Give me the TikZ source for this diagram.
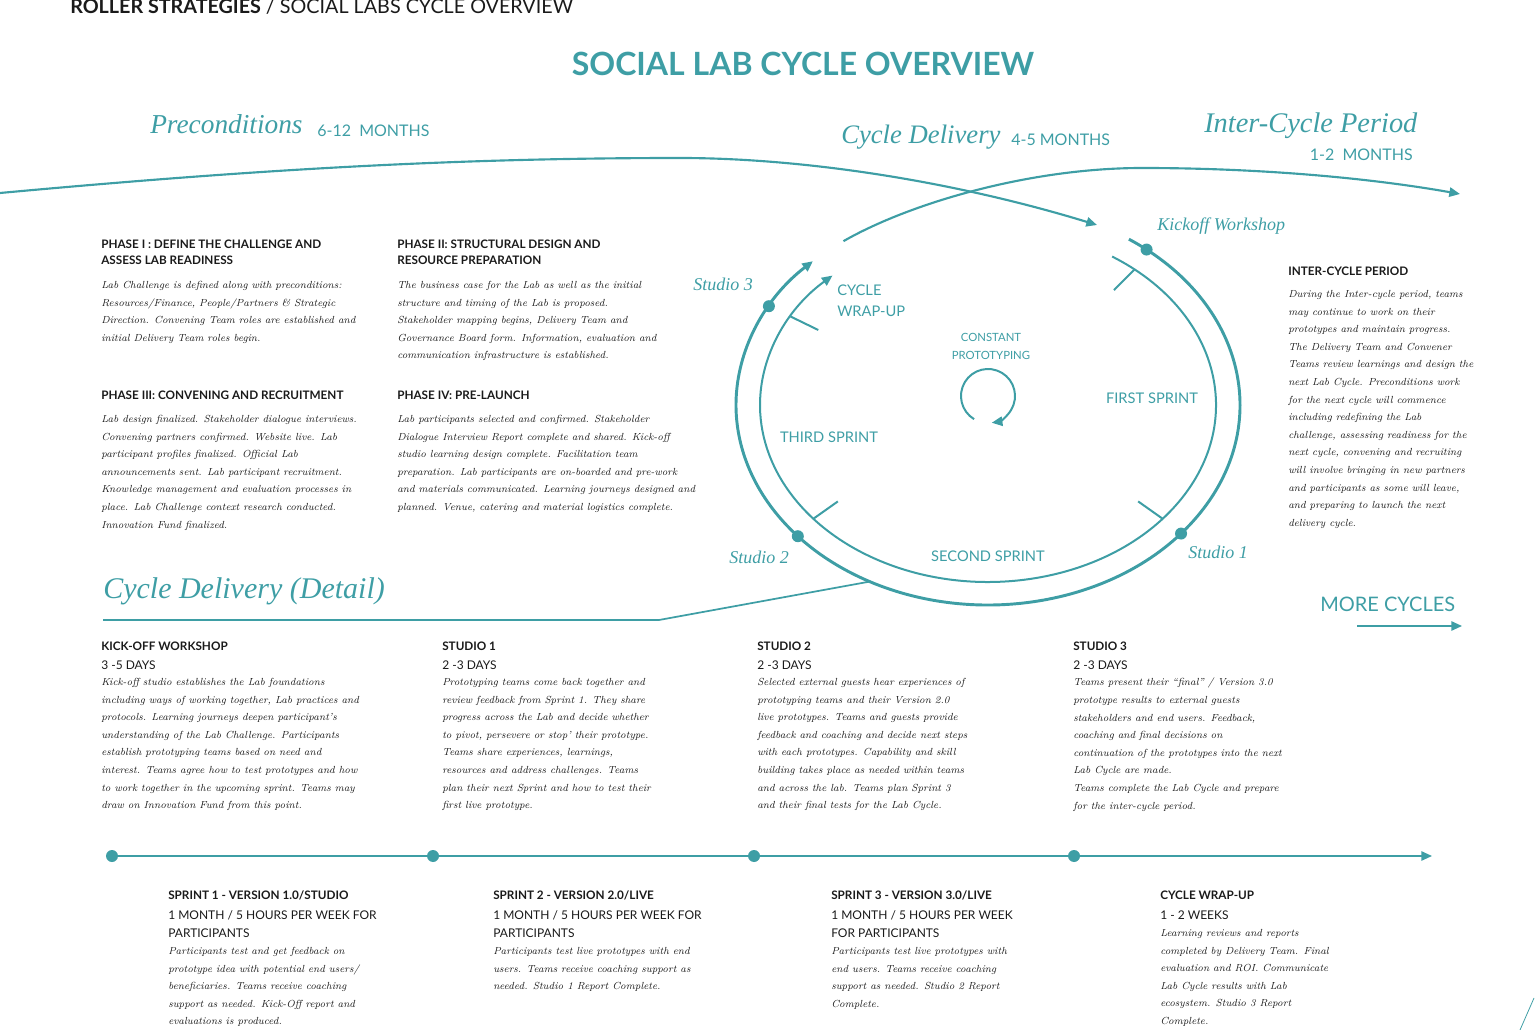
\documentclass[tikz,border=0pt]{standalone}
\usepackage{fontspec}
\setsansfont{Lato}
\newfontfamily\scrfont{Liberation Serif}
\usepackage{tikz}
\usetikzlibrary{arrows.meta,positioning,calc}
\definecolor{slTeal}{HTML}{3E9EA5}
\definecolor{slInk} {HTML}{1A1A1A}
\begin{document}
\begin{tikzpicture}[x=0.75pt,y=-0.75pt,
      hd/.style={font=\sffamily\bfseries\fontsize{8.8}{12}\selectfont,text=slInk,
                 anchor=north west,align=left,inner sep=0pt},
      dur/.style={font=\sffamily\fontsize{9}{13.5}\selectfont,text=slInk,
                  anchor=north west,align=left,inner sep=0pt},
      bd/.style={font=\itshape\fontsize{7.7}{13.2}\selectfont,text=slInk,
                 anchor=north west,align=left,inner sep=0pt},
      scr/.style={font=\scrfont\itshape\fontsize{20.5}{25}\selectfont,text=slTeal,
                  anchor=base west,inner sep=0pt},
      tag/.style={font=\scrfont\itshape\fontsize{13.5}{16}\selectfont,text=slTeal,
                  anchor=base west,inner sep=0pt},
      mon/.style={font=\sffamily\fontsize{12}{14}\selectfont,text=slTeal,
                  anchor=base west,inner sep=0pt},
      cyc/.style={font=\sffamily\fontsize{11}{15.75}\selectfont,text=slTeal,
                  align=left,inner sep=0pt},
      ring/.style={draw=slTeal,line width=2.2pt},
      inring/.style={draw=slTeal,line width=1.5pt},
      flow/.style={draw=slTeal,line width=1.3pt},
      dot/.style={circle,fill=slTeal,inner sep=0pt,minimum size=9pt},
      >={Triangle[length=8pt,width=7pt]}]
    \useasboundingbox (0,0) rectangle (1536,1030);
    \node[anchor=base west,inner sep=0pt,font=\sffamily\fontsize{14.8}{16}\selectfont,text=slInk]
      (hdr) at (70,14) {\textbf{ROLLER STRATEGIES} / SOCIAL LABS CYCLE OVERVIEW};
    \node[font=\sffamily\bfseries\fontsize{24}{28}\selectfont,text=slTeal] (ttl) at (803,64)
      {SOCIAL LAB CYCLE OVERVIEW};
    \node[scr] (pre) at (150,134) {Preconditions};
    \node[mon] (preM) at (317,137) {6-12\ \ MONTHS};
    \node[scr,font=\scrfont\itshape\fontsize{20}{25}\selectfont] (cd) at (841,144) {Cycle Delivery};
    \node[mon] (cdM) at (1011,146) {4-5 MONTHS};
    \node[scr,font=\scrfont\itshape\fontsize{21.3}{26}\selectfont] (ic) at (1204,133) {Inter-Cycle Period};
    \node[mon,anchor=base east] (icM) at (1413,161) {1-2\ \ MONTHS};
    \node[scr,font=\scrfont\itshape\fontsize{22.5}{28}\selectfont] (cdd) at (103,598) {Cycle Delivery (Detail)};
    \node[mon,font=\sffamily\fontsize{15}{18}\selectfont] (more) at (1320,611) {MORE CYCLES};
    % cycle
    \coordinate (ctr) at (988,405);
    \coordinate (cp) at (988,396);
    \coordinate (preS) at (0,193);
    \coordinate (preE) at (1097,225);
    \coordinate (icS) at ([shift={(235:252 and 200)}]ctr);
    \coordinate (icE) at (1460,194);
    \coordinate (cddA) at (103,620);
    \coordinate (cddB) at (659,620);
    \coordinate (cddC) at ([shift={(118:252 and 200)}]ctr);
    \coordinate (moreS) at (1357,626);
    \coordinate (moreE) at (1462,626);
    \draw[flow,line width=1.6pt,->] (preS) .. controls (250,170) and (450,158) .. (680,158)
      .. controls (800,158) and (950,180) .. (preE);
    \draw[flow,line width=1.6pt,->] (icS) .. controls (910,203) and (1030,168) .. (1142,168)
      .. controls (1260,168) and (1370,178) .. (icE);
    \draw[ring,->] ([shift={(-56:252 and 200)}]ctr) arc[start angle=-56,end angle=226,x radius=252,y radius=200];
    \draw[inring,->] ([shift={(-57:228 and 177)}]ctr) arc[start angle=-57,end angle=227,x radius=228,y radius=177];
    \draw[inring] ([shift={(-50:228 and 177)}]ctr) -- ([shift={(-50:196 and 150)}]ctr);
    \draw[inring] ([shift={(40:228 and 177)}]ctr) -- ([shift={(40:196 and 150)}]ctr);
    \draw[inring] ([shift={(140:228 and 177)}]ctr) -- ([shift={(140:196 and 150)}]ctr);
    \draw[inring] ([shift={(210:228 and 177)}]ctr) -- ([shift={(210:196 and 150)}]ctr);
    \node[dot] (kick) at ([shift={(-51:252 and 200)}]ctr) {};
    \node[dot] (s1) at ([shift={(40:252 and 200)}]ctr) {};
    \node[dot] (s2) at ([shift={(139:252 and 200)}]ctr) {};
    \node[dot] (s3) at ([shift={(209.6:252 and 200)}]ctr) {};
    \draw[inring,->] ([shift={(121:27)}]cp) arc[start angle=121,end angle=442,radius=27];
    \draw[flow] (cddA) -- (cddB) -- (cddC);
    \draw[flow,->] (moreS) -- (moreE);
    \node[tag] (kickL) at (1157,231) {Kickoff Workshop};
    \node[tag] (s3L) at (693,291) {Studio 3};
    \node[tag] (s2L) at (729,563) {Studio 2};
    \node[tag] (s1L) at (1188,559) {Studio 1};
    \node[cyc,anchor=north west] (wrap) at (837,284.5) {CYCLE\\WRAP-UP};
    \node[cyc] (fs) at (1152,398) {FIRST SPRINT};
    \node[cyc] (ts) at (829,437) {THIRD SPRINT};
    \node[cyc] (ss) at (988,556) {SECOND SPRINT};
    \node[cyc,align=center,font=\sffamily\fontsize{8.5}{13.5}\selectfont] (cst) at (991,346)
      {CONSTANT\\PROTOTYPING};
    % phases
    \node[hd] (p1h) at (101,240) {PHASE I : DEFINE THE CHALLENGE AND\\ASSESS LAB READINESS};
    \node[bd] (p1b) at (101,281) {Lab Challenge is defined along with preconditions:\\
      Resources/Finance, People/Partners \& Strategic\\
      Direction. Convening Team roles are established and\\
      initial Delivery Team roles begin.};
    \node[hd] (p2h) at (397,240) {PHASE II: STRUCTURAL DESIGN AND\\RESOURCE PREPARATION};
    \node[bd] (p2b) at (397,281) {The business case for the Lab as well as the initial\\
      structure and timing of the Lab is proposed.\\
      Stakeholder mapping begins, Delivery Team and\\
      Governance Board form. Information, evaluation and\\
      communication infrastructure is established.};
    \node[hd] (p3h) at (101,391) {PHASE III: CONVENING AND RECRUITMENT};
    \node[bd] (p3b) at (101,415) {Lab design finalized. Stakeholder dialogue interviews.\\
      Convening partners confirmed. Website live. Lab\\
      participant profiles finalized. Official Lab\\
      announcements sent. Lab participant recruitment.\\
      Knowledge management and evaluation processes in\\
      place. Lab Challenge context research conducted.\\
      Innovation Fund finalized.};
    \node[hd] (p4h) at (397,391) {PHASE IV: PRE-LAUNCH};
    \node[bd] (p4b) at (397,415) {Lab participants selected and confirmed. Stakeholder\\
      Dialogue Interview Report complete and shared. Kick-off\\
      studio learning design complete. Facilitation team\\
      preparation. Lab participants are on-boarded and pre-work\\
      and materials communicated. Learning journeys designed and\\
      planned. Venue, catering and material logistics complete.};
    \node[hd] (ich) at (1288,267) {INTER-CYCLE PERIOD};
    \node[bd] (icb) at (1288,290) {During the Inter-cycle period, teams\\
      may continue to work on their\\
      prototypes and maintain progress.\\
      The Delivery Team and Convener\\
      Teams review learnings and design the\\
      next Lab Cycle. Preconditions work\\
      for the next cycle will commence\\
      including redefining the Lab\\
      challenge, assessing readiness for the\\
      next cycle, convening and recruiting\\
      will involve bringing in new partners\\
      and participants as some will leave,\\
      and preparing to launch the next\\
      delivery cycle.};
    % studios
    \node[hd] (kwh) at (101,642) {KICK-OFF WORKSHOP};
    \node[dur] (kwd) at (101,660.5) {3 -5 DAYS};
    \node[bd] (kwb) at (101,678) {Kick-off studio establishes the Lab foundations\\
      including ways of working together, Lab practices and\\
      protocols. Learning journeys deepen participant's\\
      understanding of the Lab Challenge. Participants\\
      establish prototyping teams based on need and\\
      interest. Teams agree how to test prototypes and how\\
      to work together in the upcoming sprint. Teams may\\
      draw on Innovation Fund from this point.};
    \node[hd] (st1h) at (442,642) {STUDIO 1};
    \node[dur] (st1d) at (442,660.5) {2 -3 DAYS};
    \node[bd] (st1b) at (442,678) {Prototyping teams come back together and\\
      review feedback from Sprint 1. They share\\
      progress across the Lab and decide whether\\
      to pivot, persevere or stop' their prototype.\\
      Teams share experiences, learnings,\\
      resources and address challenges. Teams\\
      plan their next Sprint and how to test their\\
      first live prototype.};
    \node[hd] (st2h) at (757,642) {STUDIO 2};
    \node[dur] (st2d) at (757,660.5) {2 -3 DAYS};
    \node[bd] (st2b) at (757,678) {Selected external guests hear experiences of\\
      prototyping teams and their Version 2.0\\
      live prototypes. Teams and guests provide\\
      feedback and coaching and decide next steps\\
      with each prototypes. Capability and skill\\
      building takes place as needed within teams\\
      and across the lab. Teams plan Sprint 3\\
      and their final tests for the Lab Cycle.};
    \node[hd] (st3h) at (1073,642) {STUDIO 3};
    \node[dur] (st3d) at (1073,660.5) {2 -3 DAYS};
    \node[bd] (st3b) at (1073,678) {Teams present their ``final'' / Version 3.0\\
      prototype results to external guests\\
      stakeholders and end users. Feedback,\\
      coaching and final decisions on\\
      continuation of the prototypes into the next\\
      Lab Cycle are made.\\
      Teams complete the Lab Cycle and prepare\\
      for the inter-cycle period.};
    % timeline
    \node[dot] (t1) at (112,856) {};
    \node[dot] (t2) at (433,856) {};
    \node[dot] (t3) at (754,856) {};
    \node[dot] (t4) at (1074,856) {};
    \coordinate (tEnd) at (1432,856);
    \draw[flow] (t1) -- (t2) -- (t3) -- (t4);
    \draw[flow,->] (t4) -- (tEnd);
    % sprints
    \node[hd] (sp1h) at (168,891) {SPRINT 1 - VERSION 1.0/STUDIO};
    \node[dur] (sp1d) at (168,910.5) {1 MONTH / 5 HOURS PER WEEK FOR\\PARTICIPANTS};
    \node[bd] (sp1b) at (168,947) {Participants test and get feedback on\\
      prototype idea with potential end users/\\
      beneficiaries. Teams receive coaching\\
      support as needed. Kick-Off report and\\
      evaluations is produced.};
    \node[hd] (sp2h) at (493,891) {SPRINT 2 - VERSION 2.0/LIVE};
    \node[dur] (sp2d) at (493,910.5) {1 MONTH / 5 HOURS PER WEEK FOR\\PARTICIPANTS};
    \node[bd] (sp2b) at (493,947) {Participants test live prototypes with end\\
      users. Teams receive coaching support as\\
      needed. Studio 1 Report Complete.};
    \node[hd] (sp3h) at (831,891) {SPRINT 3 - VERSION 3.0/LIVE};
    \node[dur] (sp3d) at (831,910.5) {1 MONTH / 5 HOURS PER WEEK\\FOR PARTICIPANTS};
    \node[bd] (sp3b) at (831,947) {Participants test live prototypes with\\
      end users. Teams receive coaching\\
      support as needed. Studio 2 Report\\
      Complete.};
    \node[hd] (wuh) at (1160,891) {CYCLE WRAP-UP};
    \node[dur] (wud) at (1160,910.5) {1 - 2 WEEKS};
    \node[bd] (wub) at (1160,929) {Learning reviews and reports\\
      completed by Delivery Team. Final\\
      evaluation and ROI. Communicate\\
      Lab Cycle results with Lab\\
      ecosystem. Studio 3 Report\\
      Complete.};
    \coordinate (cutA) at (1534,998);
    \coordinate (cutB) at (1520,1030);
    \draw[slTeal,line width=0.6pt] (cutA) -- (cutB);
  \end{tikzpicture}
\end{document}
